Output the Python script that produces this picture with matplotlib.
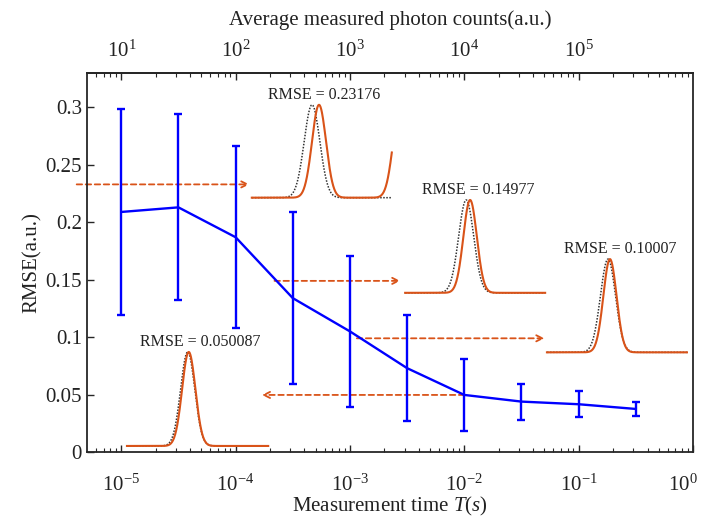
import matplotlib.pyplot as plt
import matplotlib.transforms as mtransforms
import numpy as np

plt.rcParams['font.family'] = ['Liberation Serif', 'DejaVu Serif']
plt.rcParams['mathtext.fontset'] = 'custom'
plt.rcParams['mathtext.rm'] = 'Liberation Serif'
plt.rcParams['mathtext.it'] = 'Liberation Serif:italic'

# main curve: measurement time vs RMSE with error bars
meas_time = [1e-5, 3.16e-5, 1e-4, 3.16e-4, 1e-3, 3.16e-3, 1e-2, 3.16e-2, 1e-1, 3.16e-1]
rmse_mean = [0.209, 0.213, 0.187, 0.134, 0.105, 0.073, 0.0497, 0.0439, 0.0416, 0.0375]
rmse_err = [0.090, 0.081, 0.079, 0.075, 0.066, 0.046, 0.031, 0.0157, 0.0112, 0.0062]

y_ticks = [0, 0.05, 0.1, 0.15, 0.2, 0.25, 0.3]
y_ticklabels = ['0', '0.05', '0.1', '0.15', '0.2', '0.25', '0.3']
x_ticks = [1e-5, 1e-4, 1e-3, 1e-2, 1e-1, 1e0]
top_ticks = [1e1, 1e2, 1e3, 1e4, 1e5]

# dashed arrows: (start time, end time, rmse level)
arrows = [(10**-5.39, 10**-3.88, 0.233),
          (10**-3.66, 10**-2.56, 0.149),
          (10**-2.94, 10**-1.30, 0.099),
          (1e-2, 10**-3.77, 0.0497)]

# inset pulses (normalised position inside each inset)
inset_text = ['RMSE = 0.23176', 'RMSE = 0.14977', 'RMSE = 0.10007', 'RMSE = 0.050087']
truth_center = [0.43, 0.436, 0.436, 0.43]
truth_sigma = [0.056, 0.054, 0.054, 0.050]
recon_centers = [[0.48, 1.06], [0.464], [0.45], [0.4375]]
recon_sigma = [0.050, 0.048, 0.047, 0.047]

orange = '#D95319'
spine_c = '#262626'

fig = plt.figure(figsize=(7.06, 5.25), dpi=100)
ax = fig.add_axes([0.1232, 0.139, 0.8584, 0.722])

ax.errorbar(meas_time, rmse_mean, yerr=rmse_err, color='#0000ff', lw=1.7,
            elinewidth=1.7, capsize=2.6, capthick=1.7, zorder=3)

ax.set_xscale('log')
ax.set_xlim(10**-5.3, 1)
ax.set_ylim(0, 0.33)
ax.set_xticks(x_ticks)
ax.set_yticks(y_ticks)
ax.set_yticklabels(y_ticklabels)
ax.tick_params(which='both', direction='in', colors=spine_c, labelcolor='#222222')
ax.tick_params(axis='x', labelsize=15, pad=16)
ax.tick_params(axis='y', labelsize=15)
ax.tick_params(which='major', length=5, width=1)
ax.tick_params(which='minor', length=3, width=0.8)
ax.tick_params(axis='y', which='minor', left=False)
for s in ax.spines.values():
    s.set_color(spine_c)
    s.set_linewidth(1.3)

# keep the 10^0 label inside the canvas
last = ax.get_xticklabels()[-1]
last.set_transform(last.get_transform() +
                   mtransforms.ScaledTranslation(-7 / 72, 0, fig.dpi_scale_trans))

ax.set_xlabel('Measurement time $\\mathit{T(s)}$', fontsize=15, color='#222222', labelpad=0)
ax.set_ylabel('RMSE(a.u.)', fontsize=15, color='#222222', labelpad=3)

secax = ax.secondary_xaxis('top', functions=(lambda x: x * 1e6, lambda x: x / 1e6))
secax.set_xticks(top_ticks)
secax.tick_params(which='both', direction='in', labelsize=15, colors=spine_c,
                  labelcolor='#222222', pad=8)
secax.tick_params(which='major', length=5, width=1)
secax.tick_params(which='minor', length=3, width=0.8)
secax.spines['top'].set_linewidth(1.3)
secax.spines['top'].set_color(spine_c)
secax.set_xlabel('Average measured photon counts(a.u.)', fontsize=15, color='#222222', labelpad=11)

for x0, x1, yv in arrows:
    ax.annotate('', xy=(x1, yv), xytext=(x0, yv), annotation_clip=False,
                arrowprops=dict(arrowstyle='->', color=orange, lw=1.3,
                                linestyle=(0, (3, 2)), shrinkA=0, shrinkB=0,
                                mutation_scale=11), zorder=2)

# inset locations in axes fraction
inset_bounds = [[0.272, 0.671, 0.231, 0.245],
                [0.525, 0.420, 0.231, 0.245],
                [0.759, 0.263, 0.231, 0.246],
                [0.066, 0.016, 0.233, 0.248]]

xs = np.linspace(0, 1, 400)
for i, b in enumerate(inset_bounds):
    iax = ax.inset_axes(b)
    iax.axis('off')
    iax.set_xlim(0, 1)
    iax.set_ylim(0, 1)
    truth = np.exp(-(xs - truth_center[i]) ** 2 / (2 * truth_sigma[i] ** 2))
    recon = np.zeros_like(xs)
    for c in recon_centers[i]:
        recon += np.exp(-(xs - c) ** 2 / (2 * recon_sigma[i] ** 2))
    iax.plot(xs, truth, color='#333333', ls=(0, (1, 1)), lw=1.1, clip_on=False)
    iax.plot(xs, recon, color=orange, lw=1.5, clip_on=False)
    iax.text(0.52, 1.11, inset_text[i], ha='center', va='center', fontsize=11.5,
             color='#222222')

fig.savefig('out.png', dpi=100)
